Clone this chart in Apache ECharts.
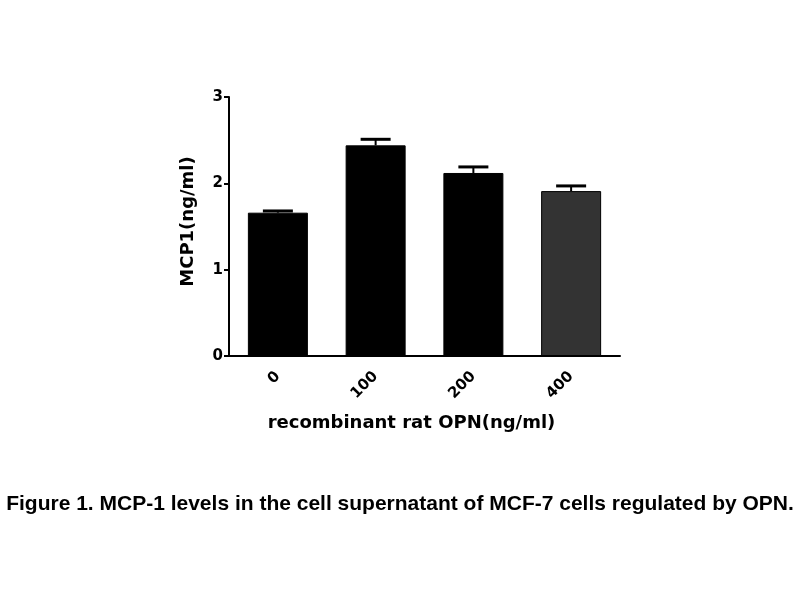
<!DOCTYPE html>
<html><head><meta charset="utf-8">
<script src="https://cdn.jsdelivr.net/npm/echarts@6/dist/echarts.min.js"></script>
<style>html,body{margin:0;padding:0;background:#fff}#c{width:800px;height:600px}</style>
</head><body><div id="c"></div>
<script>
const categories = ['0', '100', '200', '400'];
const values = [1.66, 2.44, 2.12, 1.91];
const errors = [0.02, 0.07, 0.07, 0.06];
const barColors = ['#000000', '#000000', '#000000', '#333333'];
const yTicks = [0, 1, 2, 3];

const chart = echarts.init(document.getElementById('c'));
chart.setOption({
  backgroundColor: '#fff',
  animation: false,
  grid: { left: 229, right: 180, top: 97, bottom: 244 },
  title: {
    text: 'Figure 1. MCP-1 levels in the cell supernatant of MCF-7 cells regulated by OPN.',
    left: 'center', top: 489,
    textStyle: { fontFamily: 'Liberation Sans, Arial', fontWeight: 'bold', fontSize: 21, color: '#000' }
  },
  xAxis: {
    type: 'category', data: categories,
    name: 'recombinant rat OPN(ng/ml)', nameLocation: 'middle', nameGap: 58,
    nameTextStyle: { fontFamily: 'DejaVu Sans', fontWeight: 'bold', fontSize: 18, color: '#000', padding: [0, 0, 0, -26] },
    axisLine: { lineStyle: { color: '#000', width: 2 } },
    axisTick: { alignWithLabel: true, length: 6, lineStyle: { color: '#000', width: 2 } },
    axisLabel: { rotate: 45, color: '#000', fontFamily: 'DejaVu Sans', fontWeight: 'bold', fontSize: 15, margin: 18 }
  },
  yAxis: {
    type: 'value', min: 0, max: 3, interval: 1,
    name: 'MCP1(ng/ml)', nameLocation: 'middle', nameGap: 32,
    nameTextStyle: { fontFamily: 'DejaVu Sans', fontWeight: 'bold', fontSize: 18, color: '#000', padding: [0, 0, 0, 10] },
    axisLine: { show: true, lineStyle: { color: '#000', width: 2 } },
    axisTick: { show: true, length: 5, lineStyle: { color: '#000', width: 2 } },
    splitLine: { show: false },
    axisLabel: { color: '#000', fontFamily: 'DejaVu Sans', fontWeight: 'bold', fontSize: 15, margin: 6,
      formatter: v => yTicks.includes(v) ? String(v) : '' }
  },
  series: [
    {
      type: 'bar', barWidth: 60,
      data: values.map((v, i) => ({ value: v, itemStyle: { color: barColors[i] } })),
      itemStyle: { borderColor: '#000', borderWidth: 1 }
    },
    {
      type: 'custom',
      z: 1,
      data: values.map((v, i) => [i, v, v + errors[i]]),
      renderItem: function (params, api) {
        const x = api.coord([api.value(0), api.value(1)])[0];
        const yb = api.coord([api.value(0), api.value(1)])[1];
        const yt = api.coord([api.value(0), api.value(2)])[1];
        const hw = 15;
        return {
          type: 'group',
          children: [
            { type: 'line', shape: { x1: x, y1: yb, x2: x, y2: yt }, style: { stroke: '#000', lineWidth: 2 } },
            { type: 'line', shape: { x1: x - hw, y1: yt, x2: x + hw, y2: yt }, style: { stroke: '#000', lineWidth: 3 } }
          ]
        };
      }
    }
  ]
});
</script></body></html>
